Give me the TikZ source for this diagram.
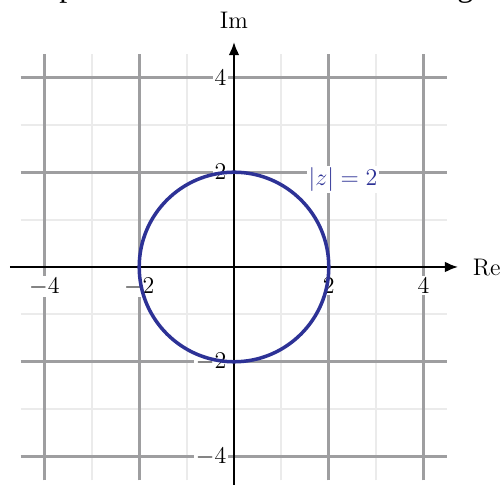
\documentclass[tikz,border=0pt]{standalone}
\usepackage{fontspec}
\newfontfamily\titlefont{Liberation Serif}
\usetikzlibrary{arrows.meta}
\definecolor{minorgrid}{RGB}{235,235,235}
\definecolor{majorgrid}{RGB}{158,158,160}
\definecolor{circblue}{RGB}{45,50,150}
\begin{document}
\begin{tikzpicture}[
  minorline/.style={draw=minorgrid, line width=1.2pt},
  majorline/.style={draw=majorgrid, line width=1.6pt},
  axisline/.style={draw=black, line width=1.4pt, -{Latex[length=8pt,width=6.5pt]}},
  ticklabel/.style={fill=white, inner sep=1pt, font=\fontsize{14.4}{16}\selectfont},
  axislabel/.style={inner sep=0pt, font=\fontsize{14.4}{16}\selectfont},
]
\useasboundingbox (-4.937,-4.599) rectangle (5.654,5.633);
\node[anchor=base west, inner sep=0pt, font=\titlefont\fontsize{19.2}{22}\selectfont] (title) at (-4.72,5.70) {All points a distance 2 from the origin};
% grid
\foreach \v in {-3,-1,1,3} {
  \draw[minorline] (\v,-4.5) -- (\v,4.5);
  \draw[minorline] (-4.5,\v) -- (4.5,\v);
}
\foreach \v in {-4,-2,2,4} {
  \draw[majorline] (\v,-4.5) -- (\v,4.5);
  \draw[majorline] (-4.5,\v) -- (4.5,\v);
}
% tick labels
\node[ticklabel, anchor=north] (xm4) at (-4,-0.19) {$-4$};
\node[ticklabel, anchor=north] (xm2) at (-2,-0.19) {$-2$};
\node[ticklabel, anchor=north] (xp2) at (2,-0.19) {$2$};
\node[ticklabel, anchor=north] (xp4) at (4,-0.19) {$4$};
\node[ticklabel, anchor=east] (yp4) at (-0.12,4) {$4$};
\node[ticklabel, anchor=east] (yp2) at (-0.12,2) {$2$};
\node[ticklabel, anchor=east] (ym2) at (-0.12,-2) {$-2$};
\node[ticklabel, anchor=east] (ym4) at (-0.12,-4) {$-4$};
% axes
\coordinate (xs) at (-4.73,0);
\coordinate (xe) at (4.73,0);
\coordinate (ys) at (0,-4.75);
\coordinate (ye) at (0,4.75);
\draw[axisline] (xs) -- (xe);
\draw[axisline] (ys) -- (ye);
\node[axislabel, anchor=west] (re) at (5.03,-0.02) {Re};
\node[axislabel] (im) at (0,5.2) {Im};
% circle
\coordinate (O) at (0,0);
\draw[circblue, line width=2.1pt] (O) circle (2);
\node[ticklabel, text=circblue] (lab) at (2.30,1.84) {$|z| = 2$};
\end{tikzpicture}
\end{document}
